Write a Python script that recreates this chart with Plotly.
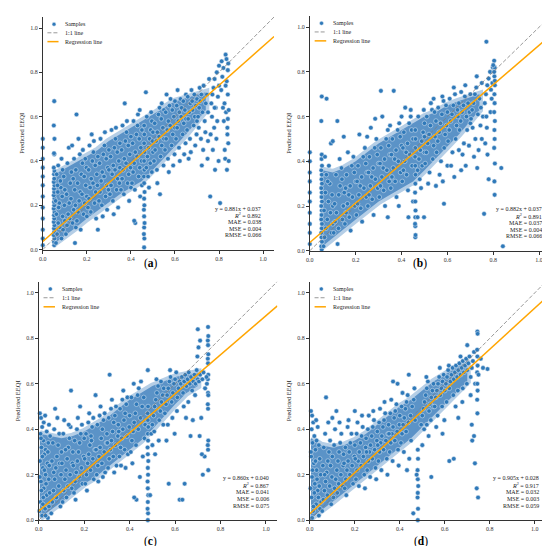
import plotly.graph_objects as go

FONT = "Liberation Serif"
BLUE = "#2f79b9"
CORE = "#5b93c7"
CORE_EDGE = "rgba(91,147,199,0.45)"
ORANGE = "#ffa500"

samples_a = [
    (0.0, 0.02), (0.0, 0.05), (0.0, 0.09), (0.0, 0.14), (0.0, 0.19), (0.0, 0.24), (0.0, 0.29), (0.0, 0.33),
    (0.0, 0.37), (0.0, 0.41), (0.0, 0.46), (0.0, 0.50),
    (0.052, 0.02), (0.051, 0.035), (0.053, 0.05), (0.05, 0.065), (0.052, 0.08), (0.051, 0.095), (0.053, 0.11),
    (0.05, 0.125), (0.052, 0.14), (0.051, 0.155), (0.053, 0.17), (0.05, 0.185), (0.052, 0.2), (0.051, 0.215),
    (0.053, 0.23), (0.05, 0.245), (0.052, 0.26), (0.051, 0.275), (0.053, 0.29), (0.05, 0.305), (0.052, 0.32),
    (0.051, 0.34), (0.053, 0.355), (0.05, 0.37), (0.052, 0.43), (0.051, 0.435), (0.053, 0.5), (0.05, 0.56),
    (0.052, 0.67),
    (0.06, 0.03), (0.065, 0.07), (0.07, 0.12), (0.062, 0.16), (0.075, 0.21), (0.068, 0.26), (0.08, 0.31),
    (0.063, 0.34), (0.085, 0.05), (0.078, 0.1), (0.09, 0.15), (0.072, 0.19), (0.088, 0.24), (0.082, 0.28),
    (0.095, 0.33), (0.058, 0.22), (0.092, 0.09), (0.1, 0.13), (0.098, 0.2), (0.07, 0.38), (0.09, 0.36),
    (0.1, 0.27), (0.067, 0.29), (0.085, 0.41),
    (0.105, 0.07), (0.11, 0.11), (0.115, 0.16), (0.12, 0.21), (0.108, 0.25), (0.125, 0.3), (0.13, 0.35),
    (0.112, 0.39), (0.135, 0.12), (0.14, 0.18), (0.128, 0.23), (0.145, 0.27), (0.138, 0.32), (0.15, 0.1),
    (0.148, 0.2), (0.118, 0.46), (0.133, 0.47), (0.142, 0.41), (0.122, 0.14), (0.15, 0.36), (0.153, 0.61),
    (0.146, 0.03),
    (0.155, 0.13), (0.16, 0.17), (0.165, 0.22), (0.17, 0.26), (0.158, 0.3), (0.175, 0.34), (0.18, 0.39),
    (0.168, 0.43), (0.185, 0.16), (0.19, 0.21), (0.178, 0.25), (0.195, 0.29), (0.188, 0.33), (0.2, 0.24),
    (0.198, 0.37), (0.162, 0.5), (0.182, 0.45), (0.172, 0.09), (0.193, 0.41), (0.2, 0.15),
    (0.205, 0.19), (0.21, 0.23), (0.215, 0.28), (0.22, 0.32), (0.208, 0.36), (0.225, 0.4), (0.23, 0.44),
    (0.218, 0.17), (0.235, 0.21), (0.24, 0.26), (0.228, 0.3), (0.245, 0.34), (0.238, 0.38), (0.25, 0.42),
    (0.248, 0.29), (0.212, 0.47), (0.232, 0.49), (0.242, 0.14), (0.25, 0.09), (0.222, 0.52),
    (0.255, 0.22), (0.26, 0.26), (0.265, 0.31), (0.27, 0.35), (0.258, 0.39), (0.275, 0.43), (0.28, 0.47),
    (0.268, 0.2), (0.285, 0.24), (0.29, 0.29), (0.278, 0.33), (0.295, 0.37), (0.288, 0.41), (0.3, 0.45),
    (0.298, 0.27), (0.262, 0.5), (0.282, 0.53), (0.292, 0.18), (0.3, 0.36), (0.272, 0.15),
    (0.305, 0.25), (0.31, 0.29), (0.315, 0.34), (0.32, 0.38), (0.308, 0.42), (0.325, 0.46), (0.33, 0.5),
    (0.318, 0.22), (0.335, 0.27), (0.34, 0.32), (0.328, 0.36), (0.345, 0.4), (0.338, 0.44), (0.35, 0.48),
    (0.348, 0.3), (0.312, 0.54), (0.332, 0.55), (0.342, 0.19), (0.35, 0.37), (0.322, 0.16),
    (0.355, 0.27), (0.36, 0.32), (0.365, 0.36), (0.37, 0.41), (0.358, 0.45), (0.375, 0.49), (0.38, 0.53),
    (0.368, 0.25), (0.385, 0.3), (0.39, 0.34), (0.378, 0.39), (0.395, 0.43), (0.388, 0.47), (0.4, 0.51),
    (0.398, 0.37), (0.362, 0.56), (0.372, 0.66), (0.392, 0.22), (0.4, 0.28), (0.382, 0.58),
    (0.405, 0.3), (0.41, 0.35), (0.415, 0.39), (0.42, 0.44), (0.408, 0.48), (0.425, 0.52), (0.43, 0.56),
    (0.418, 0.27), (0.435, 0.33), (0.44, 0.37), (0.428, 0.42), (0.445, 0.46), (0.438, 0.5), (0.45, 0.54),
    (0.448, 0.4), (0.412, 0.58), (0.432, 0.61), (0.42, 0.12), (0.415, 0.13), (0.442, 0.24), (0.45, 0.29),
    (0.44, 0.63),
    (0.46, 0.01), (0.461, 0.05), (0.459, 0.07), (0.46, 0.1), (0.462, 0.12), (0.46, 0.15), (0.459, 0.18),
    (0.461, 0.2), (0.46, 0.23), (0.462, 0.26), (0.46, 0.3), (0.459, 0.33), (0.461, 0.36), (0.46, 0.4),
    (0.462, 0.44), (0.46, 0.48), (0.461, 0.52), (0.46, 0.56),
    (0.47, 0.37), (0.475, 0.42), (0.48, 0.46), (0.485, 0.5), (0.49, 0.54), (0.495, 0.58), (0.472, 0.6),
    (0.478, 0.33), (0.488, 0.39), (0.5, 0.44), (0.498, 0.49), (0.492, 0.62), (0.468, 0.71), (0.482, 0.28),
    (0.5, 0.53), (0.495, 0.35),
    (0.505, 0.4), (0.51, 0.45), (0.515, 0.49), (0.52, 0.53), (0.508, 0.57), (0.525, 0.61), (0.53, 0.64),
    (0.518, 0.36), (0.535, 0.42), (0.54, 0.47), (0.528, 0.51), (0.545, 0.55), (0.538, 0.59), (0.55, 0.63),
    (0.548, 0.38), (0.52, 0.3), (0.54, 0.66), (0.532, 0.25), (0.55, 0.5),
    (0.555, 0.45), (0.56, 0.5), (0.565, 0.54), (0.57, 0.58), (0.558, 0.62), (0.575, 0.65), (0.58, 0.68),
    (0.568, 0.41), (0.585, 0.47), (0.59, 0.52), (0.578, 0.56), (0.595, 0.6), (0.588, 0.63), (0.6, 0.67),
    (0.598, 0.43), (0.572, 0.35), (0.592, 0.38), (0.562, 0.7), (0.6, 0.55),
    (0.605, 0.5), (0.61, 0.55), (0.615, 0.58), (0.62, 0.62), (0.608, 0.65), (0.625, 0.68), (0.63, 0.64),
    (0.618, 0.46), (0.635, 0.52), (0.64, 0.57), (0.628, 0.6), (0.645, 0.63), (0.638, 0.67), (0.65, 0.7),
    (0.648, 0.48), (0.622, 0.4), (0.642, 0.43), (0.612, 0.72), (0.65, 0.59),
    (0.655, 0.54), (0.66, 0.59), (0.665, 0.62), (0.67, 0.66), (0.658, 0.69), (0.675, 0.72), (0.68, 0.63),
    (0.668, 0.5), (0.685, 0.56), (0.69, 0.6), (0.678, 0.67), (0.695, 0.65), (0.688, 0.7), (0.7, 0.58),
    (0.698, 0.52), (0.672, 0.44), (0.692, 0.47), (0.662, 0.41), (0.7, 0.68),
    (0.705, 0.6), (0.71, 0.64), (0.715, 0.67), (0.72, 0.7), (0.708, 0.55), (0.725, 0.62), (0.73, 0.74),
    (0.718, 0.5), (0.735, 0.58), (0.74, 0.66), (0.728, 0.45), (0.745, 0.7), (0.738, 0.53), (0.75, 0.62),
    (0.748, 0.41), (0.722, 0.38), (0.755, 0.77), (0.712, 0.73), (0.76, 0.24), (0.75, 0.49),
    (0.765, 0.66), (0.77, 0.7), (0.775, 0.73), (0.78, 0.77), (0.768, 0.6), (0.785, 0.64), (0.79, 0.8),
    (0.778, 0.55), (0.795, 0.69), (0.8, 0.74), (0.788, 0.5), (0.772, 0.45), (0.8, 0.83), (0.792, 0.58),
    (0.782, 0.36), (0.798, 0.4), (0.805, 0.21), (0.78, 0.64), (0.762, 0.52),
    (0.81, 0.72), (0.815, 0.78), (0.82, 0.82), (0.812, 0.85), (0.825, 0.66), (0.83, 0.88), (0.835, 0.76),
    (0.84, 0.7), (0.832, 0.62), (0.838, 0.55), (0.842, 0.48), (0.828, 0.41), (0.836, 0.36), (0.822, 0.58),
    (0.84, 0.81), (0.834, 0.86), (0.818, 0.64), (0.842, 0.84), (0.826, 0.45), (0.84, 0.59), (0.844, 0.4),
    (0.838, 0.52), (0.83, 0.74), (0.844, 0.63),
]

samples_b = [
    (0.0, 0.03), (0.0, 0.08), (0.0, 0.12), (0.0, 0.17), (0.0, 0.22), (0.0, 0.26), (0.0, 0.31), (0.0, 0.35),
    (0.0, 0.4), (0.0, 0.44),
    (0.052, 0.005), (0.05, 0.02), (0.053, 0.04), (0.051, 0.06), (0.05, 0.08), (0.052, 0.1), (0.053, 0.12),
    (0.05, 0.14), (0.051, 0.16), (0.052, 0.18), (0.05, 0.2), (0.053, 0.22), (0.051, 0.24), (0.052, 0.26),
    (0.05, 0.28), (0.053, 0.3), (0.051, 0.32), (0.052, 0.34), (0.05, 0.36), (0.053, 0.38), (0.051, 0.41),
    (0.052, 0.43), (0.05, 0.58), (0.052, 0.69), (0.073, 0.68),
    (0.06, 0.02), (0.064, 0.06), (0.07, 0.1), (0.076, 0.14), (0.062, 0.18), (0.081, 0.22), (0.068, 0.26),
    (0.087, 0.3), (0.072, 0.34), (0.094, 0.08), (0.09, 0.17), (0.1, 0.12), (0.083, 0.38), (0.097, 0.25),
    (0.066, 0.42), (0.1, 0.2), (0.092, 0.48), (0.1, 0.49), (0.078, 0.31),
    (0.104, 0.08), (0.11, 0.13), (0.116, 0.17), (0.121, 0.03), (0.108, 0.21), (0.126, 0.25), (0.132, 0.29),
    (0.114, 0.34), (0.138, 0.37), (0.142, 0.14), (0.146, 0.2), (0.13, 0.41), (0.12, 0.58), (0.15, 0.26),
    (0.148, 0.51), (0.125, 0.1), (0.14, 0.32),
    (0.153, 0.12), (0.158, 0.17), (0.164, 0.21), (0.17, 0.25), (0.176, 0.29), (0.16, 0.34), (0.183, 0.38),
    (0.19, 0.42), (0.172, 0.15), (0.196, 0.2), (0.186, 0.24), (0.2, 0.31), (0.166, 0.44), (0.178, 0.09),
    (0.194, 0.35), (0.156, 0.28),
    (0.203, 0.16), (0.208, 0.21), (0.214, 0.25), (0.22, 0.29), (0.226, 0.33), (0.21, 0.38), (0.233, 0.42),
    (0.24, 0.46), (0.222, 0.19), (0.246, 0.24), (0.236, 0.28), (0.25, 0.35), (0.216, 0.52), (0.228, 0.13),
    (0.244, 0.39), (0.206, 0.31), (0.25, 0.51),
    (0.253, 0.2), (0.258, 0.25), (0.264, 0.29), (0.27, 0.33), (0.276, 0.37), (0.26, 0.42), (0.283, 0.46),
    (0.29, 0.5), (0.272, 0.23), (0.296, 0.28), (0.286, 0.32), (0.3, 0.39), (0.266, 0.55), (0.278, 0.16),
    (0.294, 0.43), (0.256, 0.35), (0.285, 0.59),
    (0.303, 0.24), (0.308, 0.29), (0.314, 0.33), (0.32, 0.37), (0.326, 0.41), (0.31, 0.46), (0.333, 0.5),
    (0.34, 0.54), (0.322, 0.27), (0.346, 0.31), (0.336, 0.36), (0.35, 0.43), (0.316, 0.6), (0.328, 0.2),
    (0.344, 0.47), (0.306, 0.39), (0.31, 0.715), (0.34, 0.15), (0.35, 0.56),
    (0.353, 0.28), (0.358, 0.33), (0.364, 0.37), (0.37, 0.41), (0.376, 0.45), (0.36, 0.5), (0.383, 0.54),
    (0.39, 0.57), (0.372, 0.31), (0.396, 0.35), (0.386, 0.4), (0.4, 0.47), (0.366, 0.715), (0.378, 0.24),
    (0.394, 0.51), (0.356, 0.43), (0.4, 0.6), (0.388, 0.2),
    (0.403, 0.31), (0.408, 0.36), (0.414, 0.4), (0.42, 0.44), (0.426, 0.48), (0.41, 0.53), (0.433, 0.57),
    (0.44, 0.6), (0.422, 0.34), (0.446, 0.38), (0.436, 0.43), (0.45, 0.5), (0.416, 0.64), (0.428, 0.27),
    (0.444, 0.54), (0.406, 0.46), (0.45, 0.22), (0.43, 0.15), (0.44, 0.63),
    (0.46, 0.06), (0.461, 0.07), (0.46, 0.11), (0.459, 0.12), (0.46, 0.15), (0.461, 0.18), (0.46, 0.22),
    (0.459, 0.26), (0.46, 0.3), (0.461, 0.34), (0.46, 0.38), (0.459, 0.42), (0.46, 0.46), (0.461, 0.5),
    (0.46, 0.54),
    (0.47, 0.36), (0.476, 0.41), (0.482, 0.45), (0.488, 0.49), (0.494, 0.53), (0.5, 0.57), (0.473, 0.6),
    (0.479, 0.32), (0.49, 0.38), (0.5, 0.44), (0.497, 0.63), (0.485, 0.28), (0.47, 0.15), (0.498, 0.15),
    (0.5, 0.51),
    (0.503, 0.39), (0.508, 0.44), (0.514, 0.48), (0.52, 0.52), (0.526, 0.56), (0.51, 0.6), (0.533, 0.63),
    (0.54, 0.47), (0.522, 0.35), (0.546, 0.51), (0.536, 0.41), (0.55, 0.58), (0.516, 0.3), (0.528, 0.66),
    (0.544, 0.62), (0.55, 0.29), (0.54, 0.68),
    (0.553, 0.44), (0.558, 0.49), (0.564, 0.53), (0.57, 0.57), (0.576, 0.61), (0.56, 0.64), (0.583, 0.67),
    (0.59, 0.52), (0.572, 0.4), (0.596, 0.56), (0.586, 0.46), (0.6, 0.62), (0.566, 0.34), (0.578, 0.69),
    (0.594, 0.65), (0.585, 0.21), (0.6, 0.38), (0.58, 0.31),
    (0.603, 0.49), (0.608, 0.54), (0.614, 0.58), (0.62, 0.61), (0.626, 0.65), (0.61, 0.68), (0.633, 0.7),
    (0.64, 0.56), (0.622, 0.44), (0.646, 0.6), (0.636, 0.5), (0.65, 0.66), (0.616, 0.38), (0.628, 0.73),
    (0.644, 0.63), (0.63, 0.33), (0.65, 0.45),
    (0.653, 0.54), (0.658, 0.58), (0.664, 0.62), (0.67, 0.65), (0.676, 0.69), (0.66, 0.71), (0.683, 0.6),
    (0.69, 0.66), (0.672, 0.48), (0.696, 0.62), (0.686, 0.54), (0.7, 0.7), (0.666, 0.43), (0.678, 0.74),
    (0.694, 0.47), (0.68, 0.38), (0.66, 0.36), (0.7, 0.57),
    (0.703, 0.59), (0.708, 0.63), (0.714, 0.66), (0.72, 0.7), (0.726, 0.73), (0.71, 0.55), (0.733, 0.61),
    (0.74, 0.68), (0.722, 0.5), (0.746, 0.64), (0.736, 0.45), (0.75, 0.75), (0.716, 0.42), (0.728, 0.78),
    (0.744, 0.56), (0.73, 0.37), (0.755, 0.6), (0.76, 0.165), (0.75, 0.5),
    (0.763, 0.66), (0.768, 0.7), (0.774, 0.74), (0.78, 0.77), (0.786, 0.8), (0.77, 0.6), (0.793, 0.68),
    (0.79, 0.72), (0.772, 0.55), (0.796, 0.75), (0.77, 0.935), (0.78, 0.32), (0.765, 0.48), (0.788, 0.62),
    (0.798, 0.82), (0.775, 0.43),
    (0.805, 0.78), (0.806, 0.82), (0.804, 0.85), (0.807, 0.74), (0.805, 0.7), (0.806, 0.66), (0.804, 0.62),
    (0.807, 0.58), (0.805, 0.54), (0.806, 0.5), (0.804, 0.46), (0.807, 0.39), (0.805, 0.31), (0.806, 0.25),
    (0.804, 0.8), (0.807, 0.76), (0.8, 0.83), (0.835, 0.37), (0.842, 0.02),
]

samples_c = [
    (0.005, 0.47), (0.01, 0.45), (0.015, 0.41), (0.008, 0.38), (0.02, 0.35), (0.012, 0.32), (0.025, 0.29),
    (0.006, 0.26), (0.018, 0.23), (0.03, 0.2), (0.01, 0.17), (0.022, 0.14), (0.035, 0.11), (0.008, 0.08),
    (0.028, 0.05), (0.015, 0.02), (0.04, 0.01), (0.02, 0.1), (0.012, 0.13), (0.032, 0.16), (0.005, 0.19),
    (0.025, 0.22), (0.038, 0.25), (0.016, 0.28), (0.03, 0.31), (0.042, 0.34), (0.01, 0.36), (0.035, 0.39),
    (0.022, 0.43), (0.045, 0.06), (0.048, 0.12), (0.044, 0.18), (0.046, 0.24), (0.04, 0.3), (0.05, 0.37),
    (0.003, 0.04), (0.028, 0.46), (0.018, 0.07), (0.03, 0.02), (0.045, 0.42),
    (0.055, 0.03), (0.06, 0.08), (0.065, 0.13), (0.07, 0.18), (0.075, 0.23), (0.08, 0.28), (0.085, 0.33),
    (0.09, 0.38), (0.058, 0.26), (0.068, 0.4), (0.078, 0.1), (0.088, 0.15), (0.098, 0.2), (0.062, 0.34),
    (0.072, 0.49), (0.082, 0.45), (0.092, 0.25), (0.1, 0.3), (0.095, 0.06), (0.066, 0.21),
    (0.105, 0.08), (0.11, 0.13), (0.115, 0.18), (0.12, 0.22), (0.125, 0.27), (0.13, 0.32), (0.135, 0.36),
    (0.14, 0.41), (0.108, 0.38), (0.118, 0.31), (0.128, 0.15), (0.138, 0.2), (0.148, 0.25), (0.112, 0.44),
    (0.122, 0.1), (0.142, 0.57), (0.132, 0.42), (0.15, 0.3), (0.145, 0.14), (0.102, 0.25),
    (0.155, 0.12), (0.16, 0.17), (0.165, 0.21), (0.17, 0.26), (0.175, 0.3), (0.18, 0.34), (0.185, 0.38),
    (0.19, 0.42), (0.158, 0.35), (0.168, 0.4), (0.178, 0.19), (0.188, 0.23), (0.198, 0.28), (0.162, 0.09),
    (0.172, 0.45), (0.192, 0.16), (0.2, 0.36), (0.182, 0.5), (0.152, 0.24),
    (0.205, 0.16), (0.21, 0.2), (0.215, 0.25), (0.22, 0.29), (0.225, 0.33), (0.23, 0.37), (0.235, 0.41),
    (0.24, 0.45), (0.208, 0.38), (0.218, 0.43), (0.228, 0.22), (0.238, 0.27), (0.248, 0.31), (0.212, 0.13),
    (0.222, 0.47), (0.242, 0.18), (0.25, 0.55), (0.232, 0.35), (0.202, 0.27),
    (0.255, 0.2), (0.26, 0.24), (0.265, 0.28), (0.27, 0.32), (0.275, 0.36), (0.28, 0.4), (0.285, 0.44),
    (0.29, 0.47), (0.258, 0.42), (0.268, 0.46), (0.278, 0.25), (0.288, 0.3), (0.298, 0.34), (0.262, 0.17),
    (0.272, 0.5), (0.292, 0.21), (0.3, 0.38), (0.282, 0.19), (0.252, 0.31),
    (0.305, 0.23), (0.31, 0.27), (0.315, 0.31), (0.32, 0.35), (0.325, 0.39), (0.33, 0.43), (0.335, 0.46),
    (0.34, 0.5), (0.308, 0.45), (0.318, 0.49), (0.328, 0.28), (0.338, 0.33), (0.348, 0.37), (0.312, 0.64),
    (0.322, 0.53), (0.342, 0.24), (0.35, 0.42), (0.332, 0.21), (0.302, 0.34),
    (0.355, 0.28), (0.36, 0.32), (0.365, 0.36), (0.37, 0.4), (0.375, 0.44), (0.38, 0.47), (0.385, 0.51),
    (0.39, 0.54), (0.358, 0.49), (0.368, 0.53), (0.378, 0.31), (0.388, 0.37), (0.398, 0.41), (0.362, 0.24),
    (0.372, 0.57), (0.392, 0.29), (0.4, 0.46), (0.382, 0.23), (0.352, 0.39),
    (0.405, 0.3), (0.41, 0.35), (0.415, 0.39), (0.42, 0.43), (0.425, 0.47), (0.43, 0.51), (0.435, 0.55),
    (0.44, 0.58), (0.408, 0.54), (0.418, 0.6), (0.428, 0.33), (0.438, 0.4), (0.448, 0.45), (0.455, 0.5),
    (0.462, 0.54), (0.468, 0.42), (0.445, 0.19), (0.43, 0.09), (0.42, 0.1), (0.458, 0.28), (0.465, 0.36),
    (0.45, 0.61), (0.412, 0.25),
    (0.48, 0.0), (0.481, 0.03), (0.479, 0.05), (0.48, 0.08), (0.482, 0.11), (0.48, 0.14), (0.479, 0.17),
    (0.481, 0.2), (0.48, 0.23), (0.482, 0.26), (0.48, 0.29), (0.479, 0.32), (0.481, 0.35), (0.48, 0.38),
    (0.482, 0.41), (0.48, 0.44), (0.479, 0.47), (0.481, 0.5), (0.48, 0.66), (0.49, 0.11),
    (0.495, 0.38), (0.5, 0.42), (0.505, 0.46), (0.51, 0.5), (0.515, 0.53), (0.52, 0.56), (0.525, 0.59),
    (0.53, 0.44), (0.535, 0.48), (0.54, 0.52), (0.545, 0.55), (0.55, 0.58), (0.508, 0.39), (0.518, 0.62),
    (0.528, 0.35), (0.538, 0.61), (0.548, 0.42), (0.512, 0.29), (0.5, 0.33),
    (0.555, 0.47), (0.56, 0.51), (0.565, 0.55), (0.57, 0.58), (0.575, 0.61), (0.58, 0.63), (0.585, 0.52),
    (0.59, 0.56), (0.595, 0.6), (0.6, 0.62), (0.605, 0.65), (0.61, 0.54), (0.615, 0.58), (0.62, 0.61),
    (0.568, 0.42), (0.588, 0.45), (0.608, 0.48), (0.572, 0.16), (0.598, 0.38), (0.578, 0.66), (0.562, 0.35),
    (0.625, 0.6), (0.63, 0.63), (0.635, 0.56), (0.64, 0.61), (0.645, 0.64), (0.65, 0.59), (0.655, 0.62),
    (0.66, 0.65), (0.665, 0.6), (0.67, 0.63), (0.675, 0.57), (0.68, 0.61), (0.685, 0.64), (0.69, 0.6),
    (0.695, 0.66), (0.7, 0.62), (0.638, 0.5), (0.658, 0.52), (0.678, 0.44), (0.698, 0.72), (0.62, 0.09),
    (0.632, 0.09), (0.642, 0.16), (0.668, 0.37), (0.648, 0.45), (0.7, 0.84), (0.71, 0.79), (0.703, 0.76),
    (0.688, 0.55),
    (0.705, 0.61), (0.71, 0.64), (0.715, 0.45), (0.72, 0.62), (0.725, 0.65), (0.722, 0.2), (0.73, 0.28),
    (0.718, 0.29), (0.732, 0.58), (0.708, 0.37), (0.745, 0.85), (0.746, 0.81), (0.744, 0.79), (0.745, 0.77),
    (0.746, 0.73), (0.744, 0.71), (0.745, 0.69), (0.746, 0.64), (0.744, 0.62), (0.745, 0.56), (0.746, 0.55),
    (0.744, 0.51), (0.745, 0.49), (0.746, 0.35), (0.744, 0.33), (0.745, 0.31), (0.746, 0.22), (0.74, 0.6),
    (0.738, 0.63),
]

samples_d = [
    (0.005, 0.48), (0.01, 0.46), (0.015, 0.43), (0.008, 0.4), (0.02, 0.37), (0.012, 0.34), (0.025, 0.31),
    (0.006, 0.28), (0.018, 0.25), (0.03, 0.22), (0.01, 0.19), (0.022, 0.16), (0.035, 0.13), (0.008, 0.1),
    (0.028, 0.07), (0.015, 0.04), (0.04, 0.02), (0.02, 0.12), (0.012, 0.22), (0.032, 0.18), (0.005, 0.3),
    (0.025, 0.26), (0.038, 0.1), (0.016, 0.06), (0.03, 0.35), (0.042, 0.15), (0.01, 0.01), (0.035, 0.41),
    (0.045, 0.05), (0.048, 0.2), (0.044, 0.27), (0.04, 0.33), (0.05, 0.08), (0.003, 0.14), (0.028, 0.44),
    (0.055, 0.04), (0.06, 0.09), (0.065, 0.13), (0.07, 0.17), (0.075, 0.21), (0.08, 0.26), (0.085, 0.3),
    (0.09, 0.35), (0.058, 0.24), (0.068, 0.38), (0.078, 0.11), (0.088, 0.15), (0.098, 0.19), (0.062, 0.32),
    (0.072, 0.54), (0.082, 0.43), (0.092, 0.24), (0.1, 0.28), (0.095, 0.07), (0.066, 0.2),
    (0.105, 0.1), (0.11, 0.14), (0.115, 0.18), (0.12, 0.22), (0.125, 0.26), (0.13, 0.3), (0.135, 0.34),
    (0.14, 0.38), (0.108, 0.33), (0.118, 0.48), (0.128, 0.16), (0.138, 0.2), (0.148, 0.24), (0.112, 0.4),
    (0.122, 0.12), (0.1, 0.45), (0.132, 0.43), (0.15, 0.29), (0.145, 0.15),
    (0.155, 0.14), (0.16, 0.18), (0.165, 0.22), (0.17, 0.26), (0.175, 0.3), (0.18, 0.34), (0.185, 0.38),
    (0.158, 0.32), (0.168, 0.41), (0.178, 0.2), (0.188, 0.24), (0.198, 0.28), (0.162, 0.11), (0.172, 0.44),
    (0.192, 0.16), (0.2, 0.33), (0.2, 0.48), (0.152, 0.25),
    (0.205, 0.18), (0.21, 0.22), (0.215, 0.26), (0.22, 0.3), (0.225, 0.34), (0.23, 0.37), (0.235, 0.41),
    (0.208, 0.38), (0.218, 0.15), (0.228, 0.24), (0.238, 0.28), (0.248, 0.32), (0.212, 0.43), (0.242, 0.2),
    (0.25, 0.36), (0.232, 0.46), (0.202, 0.27), (0.245, 0.14),
    (0.255, 0.22), (0.26, 0.26), (0.265, 0.3), (0.27, 0.33), (0.275, 0.37), (0.28, 0.41), (0.285, 0.44),
    (0.258, 0.4), (0.268, 0.19), (0.278, 0.27), (0.288, 0.31), (0.298, 0.35), (0.262, 0.46), (0.292, 0.23),
    (0.3, 0.39), (0.282, 0.48), (0.252, 0.3), (0.295, 0.18),
    (0.305, 0.26), (0.31, 0.3), (0.315, 0.34), (0.32, 0.37), (0.325, 0.41), (0.33, 0.44), (0.335, 0.47),
    (0.308, 0.43), (0.318, 0.22), (0.328, 0.31), (0.338, 0.35), (0.348, 0.38), (0.312, 0.49), (0.342, 0.27),
    (0.35, 0.42), (0.332, 0.52), (0.302, 0.33), (0.345, 0.2),
    (0.355, 0.3), (0.36, 0.34), (0.365, 0.38), (0.37, 0.41), (0.375, 0.45), (0.38, 0.48), (0.385, 0.51),
    (0.358, 0.47), (0.368, 0.26), (0.378, 0.35), (0.388, 0.39), (0.398, 0.42), (0.362, 0.53), (0.392, 0.31),
    (0.4, 0.46), (0.37, 0.61), (0.39, 0.6), (0.352, 0.38), (0.395, 0.24),
    (0.405, 0.34), (0.41, 0.38), (0.415, 0.42), (0.42, 0.45), (0.425, 0.49), (0.43, 0.52), (0.435, 0.55),
    (0.408, 0.5), (0.418, 0.3), (0.428, 0.39), (0.438, 0.43), (0.448, 0.46), (0.455, 0.5), (0.462, 0.53),
    (0.468, 0.44), (0.412, 0.56), (0.44, 0.64), (0.45, 0.35), (0.46, 0.03), (0.442, 0.27), (0.465, 0.58),
    (0.432, 0.22),
    (0.48, 0.0), (0.481, 0.05), (0.479, 0.1), (0.48, 0.12), (0.482, 0.15), (0.48, 0.18), (0.479, 0.22),
    (0.481, 0.27), (0.48, 0.31), (0.475, 0.2),
    (0.495, 0.42), (0.5, 0.46), (0.505, 0.49), (0.51, 0.52), (0.515, 0.55), (0.52, 0.58), (0.525, 0.61),
    (0.53, 0.48), (0.535, 0.51), (0.54, 0.54), (0.545, 0.57), (0.55, 0.6), (0.508, 0.4), (0.518, 0.63),
    (0.528, 0.37), (0.538, 0.44), (0.548, 0.5), (0.54, 0.19), (0.5, 0.33), (0.52, 0.42),
    (0.555, 0.5), (0.56, 0.54), (0.565, 0.57), (0.57, 0.6), (0.575, 0.63), (0.58, 0.55), (0.585, 0.58),
    (0.59, 0.61), (0.595, 0.64), (0.6, 0.57), (0.605, 0.6), (0.61, 0.63), (0.615, 0.66), (0.62, 0.58),
    (0.568, 0.46), (0.588, 0.5), (0.608, 0.52), (0.598, 0.44), (0.578, 0.67), (0.562, 0.41), (0.618, 0.68),
    (0.62, 0.26), (0.59, 0.38),
    (0.625, 0.61), (0.63, 0.64), (0.635, 0.67), (0.64, 0.62), (0.645, 0.65), (0.65, 0.68), (0.655, 0.63),
    (0.66, 0.66), (0.665, 0.69), (0.67, 0.64), (0.675, 0.67), (0.68, 0.7), (0.685, 0.65), (0.69, 0.68),
    (0.695, 0.71), (0.7, 0.66), (0.638, 0.55), (0.658, 0.57), (0.678, 0.52), (0.698, 0.6), (0.64, 0.27),
    (0.66, 0.45), (0.648, 0.5), (0.68, 0.58), (0.7, 0.77), (0.67, 0.72),
    (0.705, 0.69), (0.71, 0.72), (0.715, 0.63), (0.72, 0.67), (0.725, 0.7), (0.73, 0.74), (0.72, 0.42),
    (0.722, 0.35), (0.73, 0.37), (0.715, 0.55), (0.735, 0.6), (0.745, 0.83), (0.746, 0.82), (0.744, 0.75),
    (0.745, 0.72), (0.746, 0.68), (0.744, 0.65), (0.745, 0.6), (0.746, 0.57), (0.744, 0.53), (0.745, 0.47),
    (0.734, 0.25), (0.742, 0.14), (0.748, 0.1), (0.77, 0.67), (0.79, 0.665), (0.76, 0.71), (0.75, 0.64),
]

# envelope of the solid, over-plotted core of each cloud (x, lower y, upper y)
core_x_a = [0.055, 0.1, 0.15, 0.2, 0.25, 0.3, 0.35, 0.4, 0.45, 0.5, 0.55, 0.6, 0.65, 0.7, 0.74]
core_lo_a = [0.03, 0.06, 0.1, 0.14, 0.18, 0.21, 0.25, 0.28, 0.31, 0.36, 0.41, 0.46, 0.52, 0.58, 0.63]
core_hi_a = [0.34, 0.36, 0.39, 0.42, 0.45, 0.49, 0.52, 0.55, 0.58, 0.61, 0.64, 0.67, 0.69, 0.7, 0.71]
core_x_b = [0.055, 0.1, 0.15, 0.2, 0.25, 0.3, 0.35, 0.4, 0.45, 0.5, 0.55, 0.6, 0.65, 0.7, 0.74]
core_lo_b = [0.02, 0.06, 0.1, 0.14, 0.18, 0.22, 0.25, 0.28, 0.31, 0.36, 0.41, 0.46, 0.52, 0.58, 0.63]
core_hi_b = [0.36, 0.35, 0.37, 0.4, 0.44, 0.48, 0.51, 0.54, 0.57, 0.6, 0.62, 0.65, 0.67, 0.69, 0.7]
core_x_c = [0.005, 0.05, 0.1, 0.15, 0.2, 0.25, 0.3, 0.35, 0.4, 0.45, 0.5, 0.55, 0.6, 0.65, 0.7]
core_lo_c = [0.01, 0.04, 0.08, 0.12, 0.16, 0.19, 0.23, 0.27, 0.31, 0.35, 0.4, 0.46, 0.51, 0.56, 0.59]
core_hi_c = [0.38, 0.37, 0.36, 0.37, 0.39, 0.42, 0.45, 0.49, 0.53, 0.56, 0.59, 0.61, 0.63, 0.64, 0.65]
core_x_d = [0.005, 0.05, 0.1, 0.15, 0.2, 0.25, 0.3, 0.35, 0.4, 0.45, 0.5, 0.55, 0.6, 0.65, 0.7]
core_lo_d = [0.01, 0.04, 0.08, 0.12, 0.16, 0.2, 0.24, 0.28, 0.32, 0.36, 0.41, 0.46, 0.51, 0.56, 0.61]
core_hi_d = [0.36, 0.33, 0.32, 0.33, 0.35, 0.38, 0.42, 0.46, 0.5, 0.53, 0.57, 0.61, 0.64, 0.67, 0.7]

panel_samples = [samples_a, samples_b, samples_c, samples_d]
panel_cores = [
    (core_x_a, core_lo_a, core_hi_a),
    (core_x_b, core_lo_b, core_hi_b),
    (core_x_c, core_lo_c, core_hi_c),
    (core_x_d, core_lo_d, core_hi_d),
]
panel_labels = ["a", "b", "c", "d"]
slopes = [0.881, 0.882, 0.860, 0.905]
intercepts = [0.037, 0.037, 0.040, 0.028]
r2_values = [0.892, 0.891, 0.867, 0.917]
mae_values = [0.038, 0.037, 0.041, 0.032]
mse_values = [0.004, 0.004, 0.006, 0.003]
rmse_values = [0.066, 0.066, 0.075, 0.059]
legend_names = ["Samples", "1:1 line", "Regression line"]
ticks = [0.0, 0.2, 0.4, 0.6, 0.8, 1.0]
line_x = [0.0, 1.05]

# subplot placement in paper coords
x_domains = [(0.0564, 0.48), (0.5455, 0.9864), (0.049, 0.486), (0.5455, 0.978)]
y_domains = [(0.555, 0.9835), (0.553, 0.9853), (0.0568, 0.4963), (0.0568, 0.4963)]
label_pos = [(0.2545, 0.529), (0.747, 0.529), (0.2545, 0.018), (0.749, 0.018)]
stats_x = [1.0, 1.02, 1.02, 1.03]
stats_y = [0.185, 0.155, 0.125, 0.094, 0.064]
legend_rows = [0.969, 0.932, 0.894]

fig = go.Figure()
layout = dict(
    width=550,
    height=546,
    margin=dict(l=0, r=0, t=0, b=0),
    paper_bgcolor="white",
    plot_bgcolor="white",
    font=dict(family=FONT, size=6, color="#222222"),
    showlegend=False,
    annotations=[],
    shapes=[],
)

for i, pts in enumerate(panel_samples):
    n = i + 1
    sfx = "" if n == 1 else str(n)
    xa, ya = "x" + sfx, "y" + sfx
    xs = [p[0] for p in pts]
    ys = [p[1] for p in pts]
    cx, clo, chi = panel_cores[i]

    # dense core of the cloud, with a soft translucent rim
    fig.add_trace(go.Scatter(
        x=cx + cx[::-1], y=clo + chi[::-1], fill="toself", mode="lines",
        fillcolor=CORE, line=dict(color=CORE_EDGE, width=7), hoverinfo="skip",
        xaxis=xa, yaxis=ya,
    ))
    fig.add_trace(go.Scatter(
        x=xs, y=ys, mode="markers", name=legend_names[0], cliponaxis=False,
        marker=dict(size=4.6, color=BLUE, line=dict(color="#e4edf5", width=0.5)),
        xaxis=xa, yaxis=ya,
    ))
    fig.add_trace(go.Scatter(
        x=line_x, y=line_x, mode="lines", name=legend_names[1],
        line=dict(color="#7f7f7f", width=0.8, dash="4px,2px"),
        xaxis=xa, yaxis=ya,
    ))
    fig.add_trace(go.Scatter(
        x=line_x, y=[slopes[i] * v + intercepts[i] for v in line_x],
        mode="lines", name=legend_names[2],
        line=dict(color=ORANGE, width=1.5),
        xaxis=xa, yaxis=ya,
    ))

    axis_common = dict(
        range=[0, 1.05], tickvals=ticks, tickformat=".1f",
        showline=True, linecolor="#333333", linewidth=0.8,
        ticks="outside", ticklen=3, tickwidth=0.7, tickcolor="#333333",
        showgrid=False, zeroline=False,
        tickfont=dict(family=FONT, size=6, color="#333333"),
    )
    layout["xaxis" + sfx] = dict(axis_common, domain=list(x_domains[i]), anchor=ya)
    layout["yaxis" + sfx] = dict(
        axis_common, domain=list(y_domains[i]), anchor=xa,
        title=dict(text="Predicted EEQI", font=dict(family=FONT, size=6.5), standoff=4),
    )

    # legend, drawn in the top-left corner of each panel
    xd, yd = xa + " domain", ya + " domain"
    layout["shapes"].append(dict(
        type="circle", xref=xd, yref=yd,
        x0=0.04, x1=0.057, y0=legend_rows[0] - 0.0085, y1=legend_rows[0] + 0.0085,
        fillcolor=BLUE, line=dict(color="#e4edf5", width=0.5),
    ))
    layout["shapes"].append(dict(
        type="line", xref=xd, yref=yd, x0=0.02, x1=0.068, y0=legend_rows[1], y1=legend_rows[1],
        line=dict(color="#7f7f7f", width=0.8, dash="4px,2px"),
    ))
    layout["shapes"].append(dict(
        type="line", xref=xd, yref=yd, x0=0.02, x1=0.068, y0=legend_rows[2], y1=legend_rows[2],
        line=dict(color=ORANGE, width=1.5),
    ))
    for name, yy in zip(legend_names, legend_rows):
        layout["annotations"].append(dict(
            x=0.089, y=yy, xref=xd, yref=yd, text=name, showarrow=False,
            xanchor="left", yanchor="middle",
            font=dict(family=FONT, size=6, color="#222222"),
        ))

    stats = [
        "y = %.3fx + %.3f" % (slopes[i], intercepts[i]),
        "<i>R</i><sup>2</sup> = %.3f" % r2_values[i],
        "MAE = %.3f" % mae_values[i],
        "MSE = %.3f" % mse_values[i],
        "RMSE = %.3f" % rmse_values[i],
    ]
    for txt, yy in zip(stats, stats_y):
        layout["annotations"].append(dict(
            x=stats_x[i], y=yy, xref=xa, yref=ya, text=txt, showarrow=False,
            xanchor="right", yanchor="middle",
            font=dict(family=FONT, size=6, color="#222222"),
        ))

    lx, ly = label_pos[i]
    layout["annotations"].append(dict(
        x=lx, y=ly, xref="paper", yref="paper", text="(<b>%s</b>)" % panel_labels[i],
        showarrow=False, xanchor="center", yanchor="middle",
        font=dict(family=FONT, size=11.5, color="#000000"),
    ))

fig.update_layout(**layout)
fig.write_html("out.html")
